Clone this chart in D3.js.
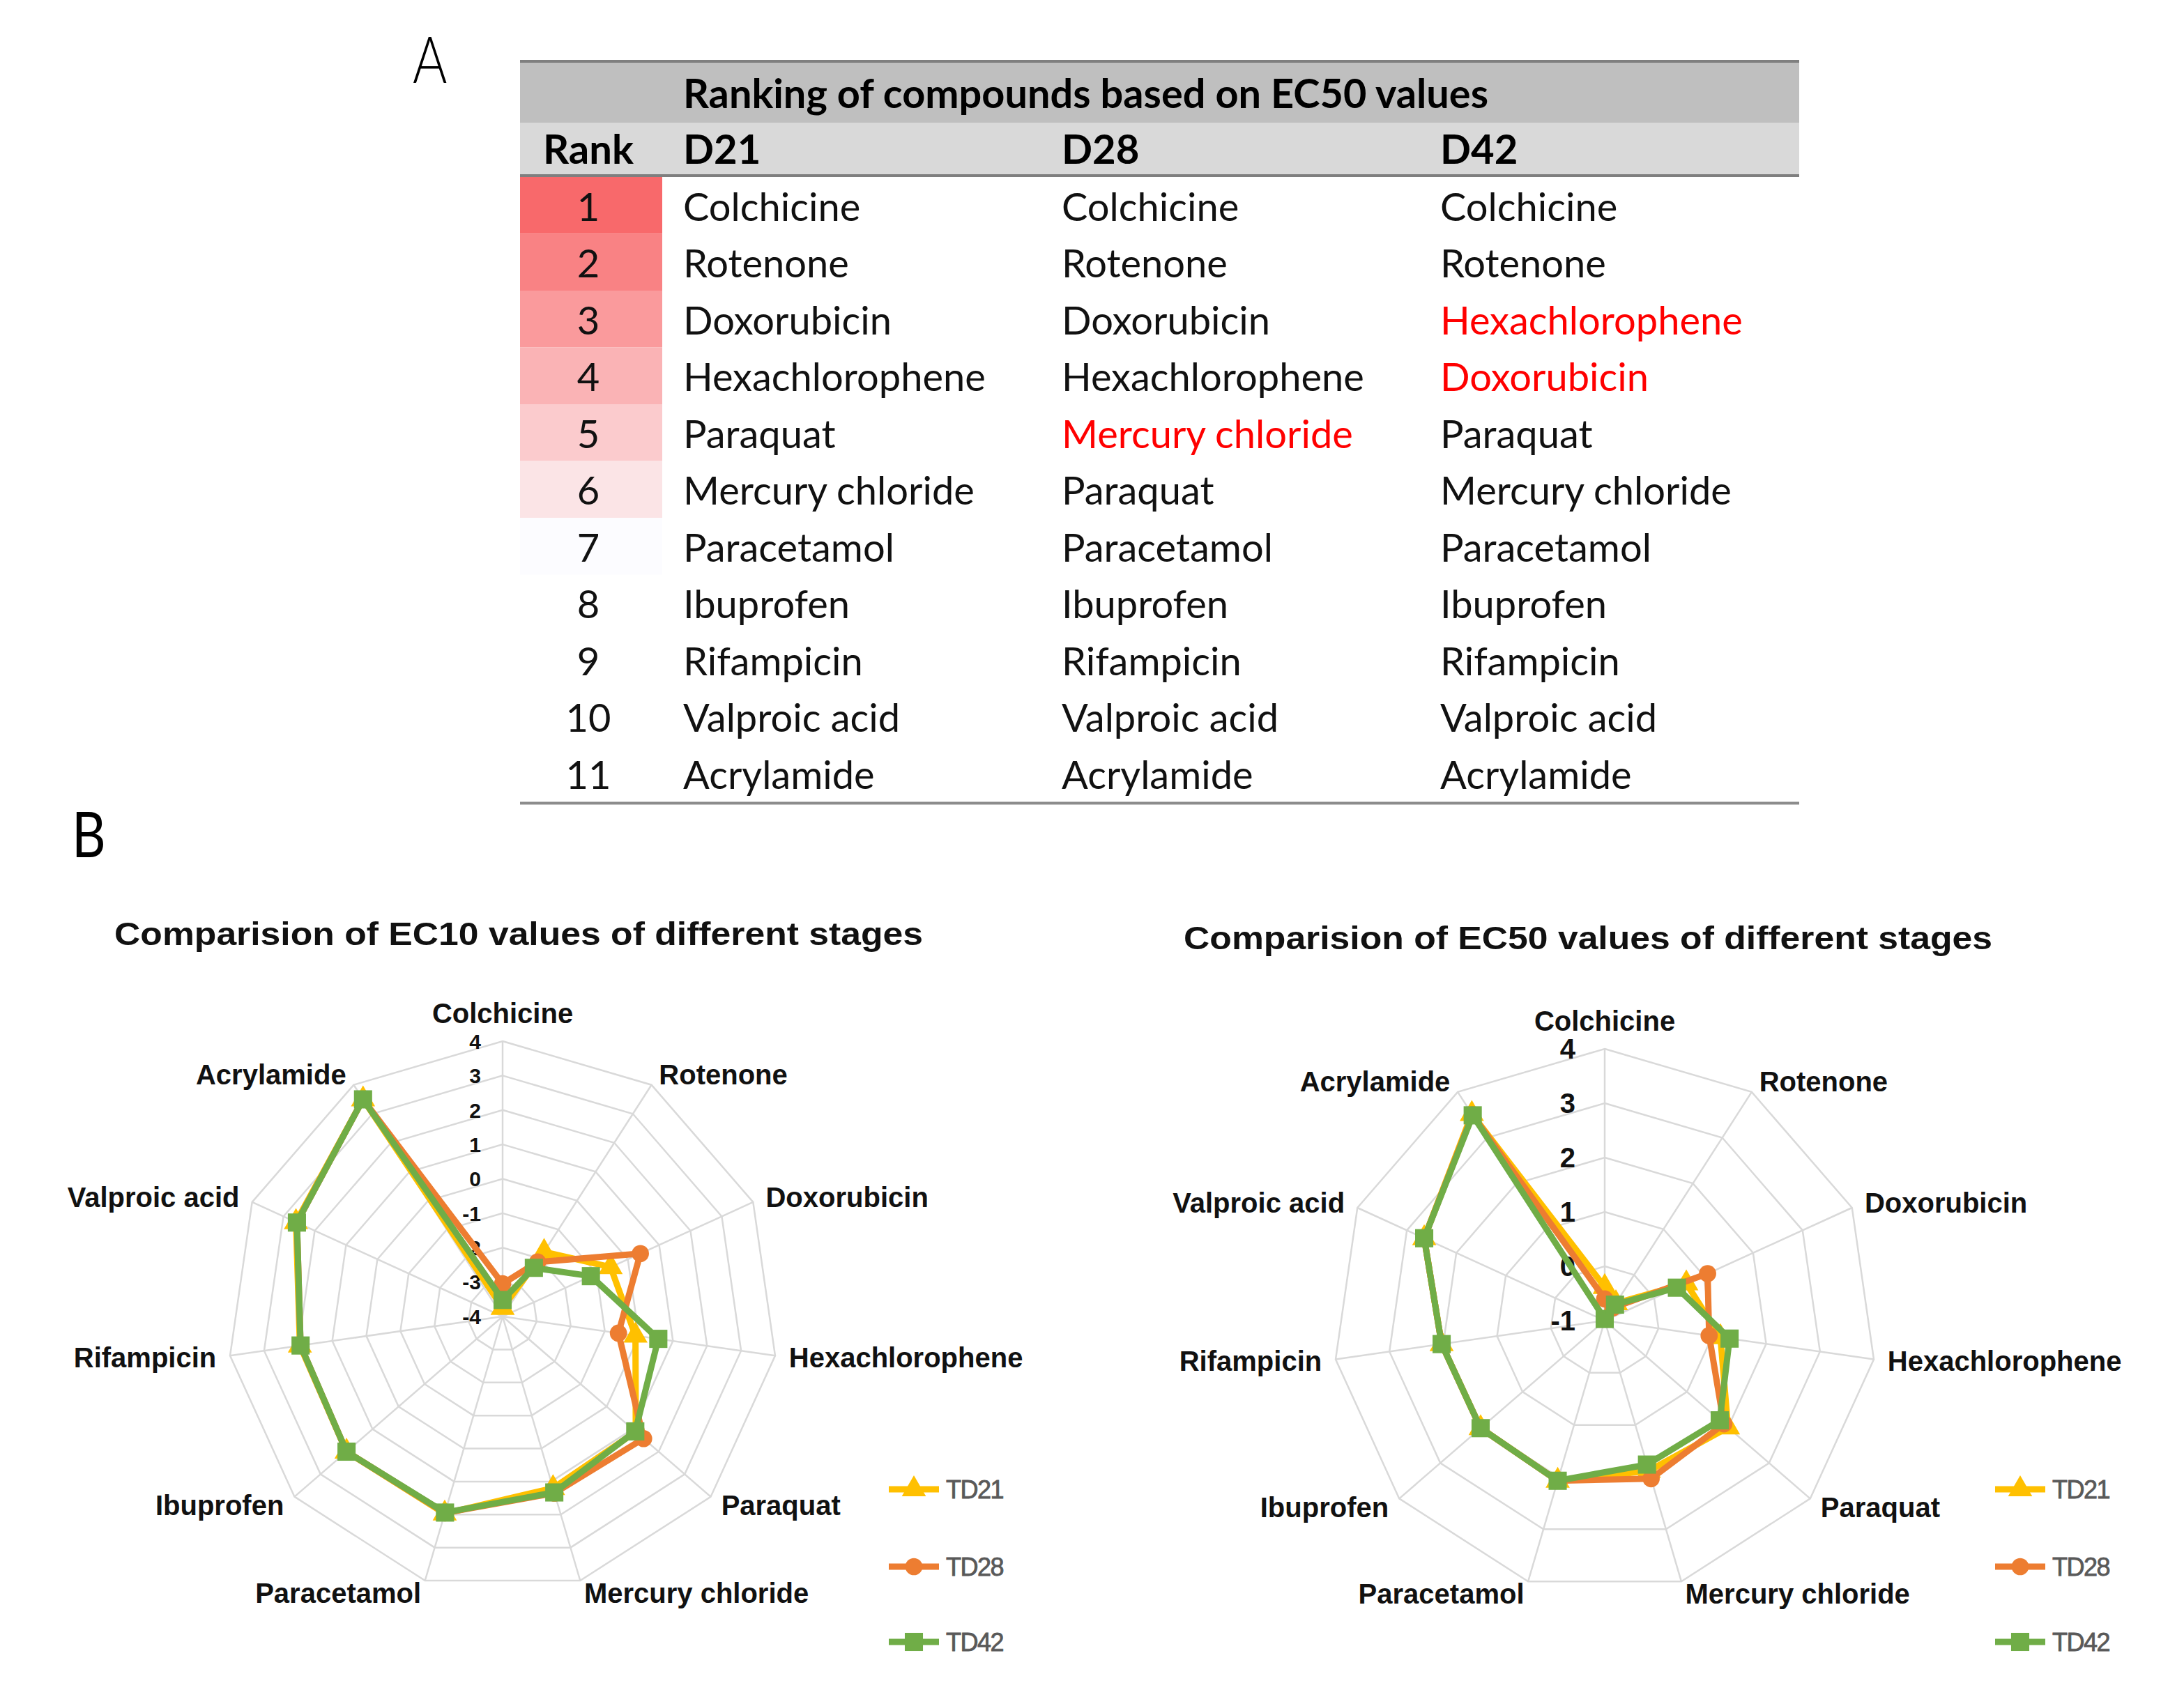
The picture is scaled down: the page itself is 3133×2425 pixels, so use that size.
<!DOCTYPE html>
<html>
<head>
<meta charset="utf-8">
<script src="https://cdn.jsdelivr.net/npm/d3@7"></script>
<style>
  body { margin: 0; background: #fff; }
  svg { display: block; }
  .tbl { font-family: Lato, "Open Sans", sans-serif; }
  .chart { font-family: "Liberation Sans", Arial, sans-serif; }
</style>
</head>
<body>
<div id="fig"></div>
<script>
// ---- data: ranking table (panel A) ----
var ranks = [1, 2, 3, 4, 5, 6, 7, 8, 9, 10, 11];
var rankD21 = ["Colchicine", "Rotenone", "Doxorubicin", "Hexachlorophene", "Paraquat", "Mercury chloride",
               "Paracetamol", "Ibuprofen", "Rifampicin", "Valproic acid", "Acrylamide"];
var rankD28 = ["Colchicine", "Rotenone", "Doxorubicin", "Hexachlorophene", "Mercury chloride", "Paraquat",
               "Paracetamol", "Ibuprofen", "Rifampicin", "Valproic acid", "Acrylamide"];
var rankD42 = ["Colchicine", "Rotenone", "Hexachlorophene", "Doxorubicin", "Paraquat", "Mercury chloride",
               "Paracetamol", "Ibuprofen", "Rifampicin", "Valproic acid", "Acrylamide"];
// rows whose name changed position (drawn in red)
var redD28 = [5];
var redD42 = [3, 4];
var rankFills = ["#f8696b", "#f98284", "#fa9a9c", "#fab3b5", "#fbcbcd", "#fbe4e6", "#fcfcff"];

// ---- data: radar charts (panel B) ----
var compounds = ["Colchicine", "Rotenone", "Doxorubicin", "Hexachlorophene", "Paraquat", "Mercury chloride",
                 "Paracetamol", "Ibuprofen", "Rifampicin", "Valproic acid", "Acrylamide"];
var stages = ["TD21", "TD28", "TD42"];
var ec10TD21 = [-3.75, -1.77, -0.55, -0.1, 1.12, 1.2, 1.97, 2.0, 1.95, 2.6, 3.5];
var ec10TD28 = [-3.05, -2.12, 0.4, -0.6, 1.42, 1.35, 1.95, 2.0, 1.93, 2.57, 3.5];
var ec10TD42 = [-3.52, -2.32, -1.18, 0.57, 1.1, 1.33, 1.94, 2.0, 1.93, 2.57, 3.5];
var ec50TD21 = [-0.38, -0.62, 0.65, 1.15, 2.0, 1.88, 2.07, 2.02, 2.03, 2.65, 3.52];
var ec50TD28 = [-0.6, -0.72, 1.08, 0.94, 1.9, 2.03, 2.07, 2.02, 2.03, 2.65, 3.5];
var ec50TD42 = [-0.97, -0.65, 0.46, 1.32, 1.8, 1.76, 2.07, 2.02, 2.03, 2.65, 3.49];
var ec10Ticks = [-4, -3, -2, -1, 0, 1, 2, 3, 4];
var ec50Ticks = [-1, 0, 1, 2, 3, 4];

var W = 3133, H = 2425;
var svg = d3.select("#fig").append("svg")
    .attr("width", W)
    .attr("height", H);

// Panel letters
svg.append("text").attr("class", "tbl")
    .attr("transform", "translate(592,119) scale(0.82,1)")
    .attr("font-size", 92).attr("font-weight", 300)
    .text("A");
svg.append("text").attr("class", "tbl")
    .attr("transform", "translate(103,1230) scale(0.82,1)")
    .attr("font-size", 92).attr("font-weight", 400)
    .text("B");

drawTable();
drawRadar({
  title: "Comparision of EC10 values of different stages",
  titleX: 164, titleY: 1356, titleW: 1160,
  cx: 721, cy: 1889, R: 395,
  ticks: ec10Ticks, tickSize: 30, tickX: -31,
  series: [ec10TD21, ec10TD28, ec10TD42],
  legendX: 1275
});
drawRadar({
  title: "Comparision of EC50 values of different stages",
  titleX: 1698, titleY: 1362, titleW: 1160,
  cx: 2302, cy: 1895, R: 390,
  ticks: ec50Ticks, tickSize: 40, tickX: -42,
  series: [ec50TD21, ec50TD28, ec50TD42],
  legendX: 2862
});

function drawTable() {
  var left = 746, right = 2581, rankRight = 950;
  var top = 88, h1 = 176, h2 = 252, rowH = 81.5;
  var colX = [980, 1523, 2066];
  var fs = 56;
  var g = svg.append("g").attr("class", "tbl");

  g.append("rect").attr("x", left).attr("y", top).attr("width", right - left).attr("height", h1 - top)
      .attr("fill", "#bfbfbf");
  g.append("rect").attr("x", left).attr("y", h1).attr("width", right - left).attr("height", h2 - h1)
      .attr("fill", "#d9d9d9");

  var y = d3.scaleBand().domain(ranks).range([h2 + 2, h2 + 2 + rowH * ranks.length]);

  g.selectAll(".fill").data(rankFills).enter().append("rect")
      .attr("x", left).attr("width", rankRight - left)
      .attr("y", function(d, i) { return y(ranks[i]); })
      .attr("height", y.bandwidth())
      .attr("fill", function(d) { return d; });

  [top, h2].forEach(function(yy) {
    g.append("line").attr("x1", left).attr("x2", right).attr("y1", yy).attr("y2", yy)
        .attr("stroke", "#7f7f7f").attr("stroke-width", 4);
  });
  var bottom = y(ranks[ranks.length - 1]) + y.bandwidth() + 2;
  g.append("line").attr("x1", left).attr("x2", right).attr("y1", bottom).attr("y2", bottom)
      .attr("stroke", "#8c8c8c").attr("stroke-width", 4);

  g.append("text").attr("x", colX[0]).attr("y", (top + h1) / 2 + 2)
      .attr("dy", "0.36em").attr("font-size", 58).attr("font-weight", 700)
      .attr("textLength", 1155).attr("lengthAdjust", "spacingAndGlyphs")
      .text("Ranking of compounds based on EC50 values");
  var heads = ["D21", "D28", "D42"];
  g.append("text").attr("x", (left + rankRight) / 2 - 4).attr("y", (h1 + h2) / 2)
      .attr("dy", "0.36em").attr("text-anchor", "middle")
      .attr("font-size", 58).attr("font-weight", 700).text("Rank");
  heads.forEach(function(t, i) {
    g.append("text").attr("x", colX[i]).attr("y", (h1 + h2) / 2)
        .attr("dy", "0.36em").attr("font-size", 58).attr("font-weight", 700).text(t);
  });

  g.selectAll(".rank").data(ranks).enter().append("text")
      .attr("x", (left + rankRight) / 2 - 4)
      .attr("y", function(d) { return y(d) + y.bandwidth() / 2 + 3; })
      .attr("dy", "0.34em").attr("text-anchor", "middle")
      .attr("font-size", fs).attr("fill", "#111")
      .text(function(d) { return d; });

  [[rankD21, []], [rankD28, redD28], [rankD42, redD42]].forEach(function(c, ci) {
    g.selectAll(".c" + ci).data(c[0]).enter().append("text")
        .attr("x", colX[ci])
        .attr("y", function(d, i) { return y(ranks[i]) + y.bandwidth() / 2 + 3; })
        .attr("dy", "0.34em")
        .attr("font-size", fs)
        .attr("fill", function(d, i) { return c[1].indexOf(ranks[i]) >= 0 ? "#ff0000" : "#111"; })
        .text(function(d) { return d; });
  });
}

function drawRadar(o) {
  var colors = ["#ffc000", "#ed7d31", "#70ad47"];
  var symbols = [d3.symbolTriangle, d3.symbolCircle, d3.symbolSquare];
  var symSizes = [520, 480, 680];
  var n = compounds.length;
  var ext = d3.extent(o.ticks);
  var r = d3.scaleLinear().domain(ext).range([0, o.R]);
  var a = d3.scalePoint().domain(compounds).range([0, 2 * Math.PI * (n - 1) / n]);

  var g = svg.append("g").attr("class", "chart");
  var c = g.append("g").attr("transform", "translate(" + o.cx + "," + o.cy + ")");

  g.append("text").attr("x", o.titleX).attr("y", o.titleY)
      .attr("font-size", 46).attr("font-weight", 700).attr("fill", "#111")
      .attr("textLength", o.titleW).attr("lengthAdjust", "spacingAndGlyphs")
      .text(o.title);

  // grid rings
  var ring = d3.lineRadial().curve(d3.curveLinearClosed);
  c.selectAll(".ring").data(o.ticks.slice(1)).enter().append("path")
      .attr("d", function(t) { return ring(compounds.map(function(k) { return [a(k), r(t)]; })); })
      .attr("fill", "none").attr("stroke", "#d9d9d9").attr("stroke-width", 2.5);
  c.selectAll(".spoke").data(compounds).enter().append("line")
      .attr("x1", 0).attr("y1", 0)
      .attr("x2", function(k) { return o.R * Math.sin(a(k)); })
      .attr("y2", function(k) { return -o.R * Math.cos(a(k)); })
      .attr("stroke", "#d9d9d9").attr("stroke-width", 2.5);

  // tick labels
  c.selectAll(".tick").data(o.ticks).enter().append("text")
      .attr("x", o.tickX).attr("y", function(t) { return -r(t); })
      .attr("dy", "0.36em").attr("text-anchor", "end")
      .attr("font-size", o.tickSize).attr("font-weight", 700).attr("fill", "#111")
      .text(function(t) { return t; });

  // category labels
  c.selectAll(".cat").data(compounds).enter().append("text")
      .attr("x", function(k) { return (o.R + 20) * Math.sin(a(k)); })
      .attr("y", function(k) {
        var cs = Math.cos(a(k));
        return -o.R * cs - 18 * cs - (cs > 0.99 ? 22 : 0);
      })
      .attr("dy", "0.36em")
      .attr("text-anchor", function(k) {
        var s = Math.sin(a(k));
        return Math.abs(s) < 0.05 ? "middle" : (s > 0 ? "start" : "end");
      })
      .attr("font-size", 40).attr("font-weight", 700).attr("fill", "#111")
      .text(function(k) { return k; });

  // series
  var line = d3.lineRadial()
      .angle(function(d, i) { return a(compounds[i]); })
      .radius(function(d) { return r(d); })
      .curve(d3.curveLinearClosed);
  o.series.forEach(function(vals, si) {
    c.append("path").attr("d", line(vals))
        .attr("fill", "none").attr("stroke", colors[si]).attr("stroke-width", 9)
        .attr("stroke-linejoin", "round");
    c.selectAll(".m" + si).data(vals).enter().append("path")
        .attr("d", d3.symbol().type(symbols[si]).size(symSizes[si]))
        .attr("transform", function(d, i) {
          var ang = a(compounds[i]);
          return "translate(" + (r(d) * Math.sin(ang)) + "," + (-r(d) * Math.cos(ang)) + ")";
        })
        .attr("fill", colors[si]);
  });

  // legend
  var ly = [2137, 2248, 2356];
  stages.forEach(function(s, si) {
    var lg = g.append("g").attr("transform", "translate(" + o.legendX + "," + ly[si] + ")");
    lg.append("line").attr("x1", 0).attr("x2", 72).attr("y1", 0).attr("y2", 0)
        .attr("stroke", colors[si]).attr("stroke-width", 9);
    lg.append("path").attr("d", d3.symbol().type(symbols[si]).size(symSizes[si]))
        .attr("transform", "translate(36,0)").attr("fill", colors[si]);
    lg.append("text").attr("x", 82).attr("y", 0).attr("dy", "0.36em")
        .attr("font-size", 36).attr("fill", "#595959").attr("letter-spacing", -1.5)
        .attr("stroke", "#595959").attr("stroke-width", 0.8)
        .text(s);
  });
}
</script>
</body>
</html>
